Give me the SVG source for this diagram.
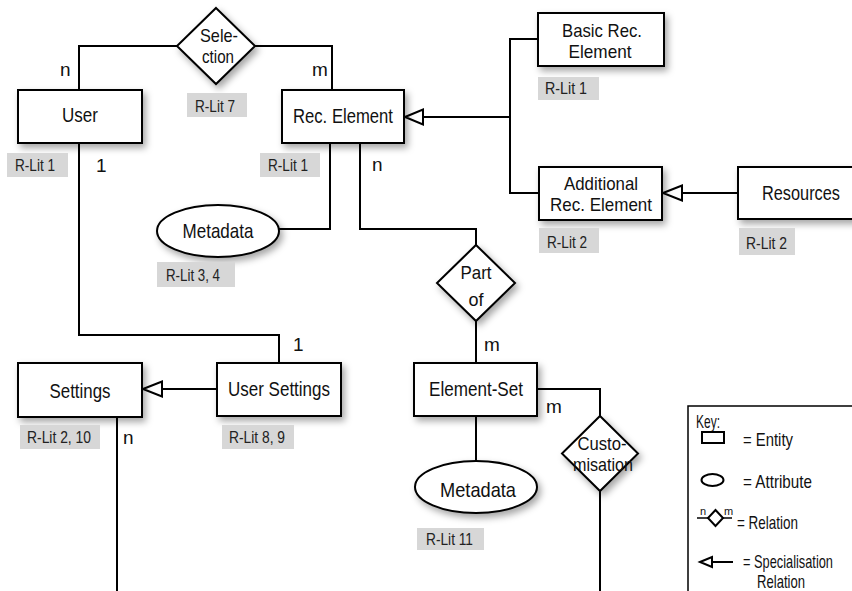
<svg xmlns="http://www.w3.org/2000/svg" width="852" height="591" viewBox="0 0 852 591">
<defs>
<filter id="sh" x="-20%" y="-20%" width="150%" height="160%">
<feDropShadow dx="3" dy="4" stdDeviation="3.5" flood-color="#000" flood-opacity="0.35"/>
</filter>
<style>
.nd{fill:#fff;stroke:#000;stroke-width:2;filter:url(#sh)}
.ln{fill:none;stroke:#000;stroke-width:2}
.tri{fill:#fff;stroke:#000;stroke-width:2}
.t{font-family:"Liberation Sans",Arial,sans-serif;font-size:21px;fill:#111;text-anchor:middle}
.t2{font-family:"Liberation Sans",Arial,sans-serif;font-size:19px;fill:#111;text-anchor:middle}
.c{font-family:"Liberation Sans",Arial,sans-serif;font-size:19px;fill:#111}
.lb{fill:#d7d7d7}
.lt{font-family:"Liberation Sans",Arial,sans-serif;font-size:17px;fill:#222}
.k{font-family:"Liberation Sans",Arial,sans-serif;font-size:19px;fill:#111}
</style>
</defs>
<rect width="852" height="591" fill="#fff"/>

<g id="connectors">
<path class="ln" d="M79,90 V46 H177"/>
<path class="ln" d="M255,46 H332 V90"/>
<path class="ln" d="M423,117 H510"/>
<path class="ln" d="M538,39 H510 V193 H539"/>
<path class="ln" d="M682,193 H738"/>
<path class="ln" d="M330,143 V229 H279"/>
<path class="ln" d="M360,143 V229 H476 V245"/>
<path class="ln" d="M476,321 V363"/>
<path class="ln" d="M537,389 H600 V416"/>
<path class="ln" d="M600,491 V591"/>
<path class="ln" d="M476,416 V462"/>
<path class="ln" d="M79,143 V335 H279 V363"/>
<path class="ln" d="M162,389 H217"/>
<path class="ln" d="M117,417 V591"/>
<polygon class="tri" points="405,117 423,109.5 423,124.5"/>
<polygon class="tri" points="663,193 682,185.5 682,200.5"/>
<polygon class="tri" points="143,389 162,381.5 162,396.5"/>
<text class="c" x="60" y="76">n</text>
<text class="c" x="312" y="76">m</text>
<text class="c" x="96" y="172">1</text>
<text class="c" x="372" y="171">n</text>
<text class="c" x="293" y="351">1</text>
<text class="c" x="123" y="444">n</text>
<text class="c" x="484" y="351">m</text>
<text class="c" x="546" y="413">m</text>
</g>

<g id="user">
<rect class="nd" x="18" y="90" width="124" height="53"/>
<text class="t" x="80" y="122" textLength="36" lengthAdjust="spacingAndGlyphs">User</text>
<rect class="lb" x="7" y="153" width="61" height="24"/>
<text class="lt" x="15" y="171" textLength="40" lengthAdjust="spacingAndGlyphs">R-Lit 1</text>
</g>

<g id="selection">
<polygon class="nd" points="216,8 255,46 216,84 177,46"/>
<text class="t2" x="219" y="42" textLength="38" lengthAdjust="spacingAndGlyphs">Sele-</text>
<text class="t2" x="218" y="63" textLength="32" lengthAdjust="spacingAndGlyphs">ction</text>
<rect class="lb" x="187" y="93" width="60" height="24"/>
<text class="lt" x="195" y="112" textLength="40" lengthAdjust="spacingAndGlyphs">R-Lit 7</text>
</g>

<g id="rec-element">
<rect class="nd" x="282" y="90" width="122" height="53"/>
<text class="t" x="343" y="123" textLength="100" lengthAdjust="spacingAndGlyphs">Rec. Element</text>
<rect class="lb" x="260" y="153" width="60" height="24"/>
<text class="lt" x="268" y="171" textLength="40" lengthAdjust="spacingAndGlyphs">R-Lit 1</text>
</g>

<g id="basic-rec-element">
<rect class="nd" x="538" y="13" width="126" height="53"/>
<text class="t2" x="602" y="37" textLength="80" lengthAdjust="spacingAndGlyphs">Basic Rec.</text>
<text class="t2" x="600" y="58" textLength="63" lengthAdjust="spacingAndGlyphs">Element</text>
<rect class="lb" x="538" y="77" width="61" height="23"/>
<text class="lt" x="545" y="94" textLength="42" lengthAdjust="spacingAndGlyphs">R-Lit 1</text>
</g>

<g id="additional-rec-element">
<rect class="nd" x="539" y="167" width="123" height="53"/>
<text class="t2" x="601" y="190" textLength="74" lengthAdjust="spacingAndGlyphs">Additional</text>
<text class="t2" x="601" y="211" textLength="102" lengthAdjust="spacingAndGlyphs">Rec. Element</text>
<rect class="lb" x="539" y="228" width="60" height="25"/>
<text class="lt" x="547" y="248" textLength="40" lengthAdjust="spacingAndGlyphs">R-Lit 2</text>
</g>

<g id="resources">
<rect class="nd" x="738" y="167" width="130" height="52"/>
<text class="t" x="801" y="200" textLength="78" lengthAdjust="spacingAndGlyphs">Resources</text>
<rect class="lb" x="739" y="228" width="56" height="27"/>
<text class="lt" x="746" y="249" textLength="41" lengthAdjust="spacingAndGlyphs">R-Lit 2</text>
</g>

<g id="metadata-1">
<ellipse class="nd" cx="218" cy="231" rx="61" ry="26"/>
<text class="t" x="218" y="238" textLength="71" lengthAdjust="spacingAndGlyphs">Metadata</text>
<rect class="lb" x="157" y="262" width="78" height="25"/>
<text class="lt" x="166" y="281" textLength="54" lengthAdjust="spacingAndGlyphs">R-Lit 3, 4</text>
</g>

<g id="part-of">
<polygon class="nd" points="476,245 515,283 476,321 437,283"/>
<text class="t2" x="476" y="279" textLength="31" lengthAdjust="spacingAndGlyphs">Part</text>
<text class="t2" x="476" y="306" textLength="15" lengthAdjust="spacingAndGlyphs">of</text>
</g>

<g id="settings">
<rect class="nd" x="18" y="363" width="124" height="54"/>
<text class="t" x="80" y="398" textLength="61" lengthAdjust="spacingAndGlyphs">Settings</text>
<rect class="lb" x="20" y="425" width="80" height="24"/>
<text class="lt" x="27" y="443" textLength="64" lengthAdjust="spacingAndGlyphs">R-Lit 2, 10</text>
</g>

<g id="user-settings">
<rect class="nd" x="217" y="363" width="124" height="53"/>
<text class="t" x="279" y="396" textLength="102" lengthAdjust="spacingAndGlyphs">User Settings</text>
<rect class="lb" x="222" y="425" width="72" height="24"/>
<text class="lt" x="229" y="443" textLength="56" lengthAdjust="spacingAndGlyphs">R-Lit 8, 9</text>
</g>

<g id="element-set">
<rect class="nd" x="414" y="363" width="123" height="53"/>
<text class="t" x="476" y="396" textLength="94" lengthAdjust="spacingAndGlyphs">Element-Set</text>
</g>

<g id="metadata-2">
<ellipse class="nd" cx="476" cy="487" rx="61" ry="26"/>
<text class="t" x="478" y="497" textLength="76" lengthAdjust="spacingAndGlyphs">Metadata</text>
<rect class="lb" x="417" y="528" width="67" height="22"/>
<text class="lt" x="426" y="545" textLength="47" lengthAdjust="spacingAndGlyphs">R-Lit 11</text>
</g>

<g id="customisation">
<polygon class="nd" points="600,416 638,453.5 600,491 562,453.5"/>
<text class="t2" x="602" y="450" textLength="49" lengthAdjust="spacingAndGlyphs">Custo-</text>
<text class="t2" x="603" y="471" textLength="60" lengthAdjust="spacingAndGlyphs">misation</text>
</g>

<g id="key">
<rect x="688" y="406" width="180" height="200" fill="#fff" stroke="#000" stroke-width="1.5"/>
<text class="k" x="696" y="428" textLength="24" lengthAdjust="spacingAndGlyphs">Key:</text>
<rect x="702" y="432" width="22" height="11" fill="#fff" stroke="#000" stroke-width="2"/>
<text class="k" x="743" y="446" textLength="50" lengthAdjust="spacingAndGlyphs">= Entity</text>
<ellipse cx="712.5" cy="480" rx="11" ry="6" fill="#fff" stroke="#000" stroke-width="2"/>
<text class="k" x="743" y="488" textLength="69" lengthAdjust="spacingAndGlyphs">= Attribute</text>
<path d="M697,518 H732" stroke="#000" stroke-width="1.5" fill="none"/>
<polygon points="715.5,510 723,518 715.5,526 708,518" fill="#fff" stroke="#000" stroke-width="2"/>
<text x="700" y="515" font-family="Liberation Sans, Arial, sans-serif" font-size="11" fill="#111">n</text>
<text x="724" y="515" font-family="Liberation Sans, Arial, sans-serif" font-size="11" fill="#111">m</text>
<text class="k" x="737" y="529" textLength="61" lengthAdjust="spacingAndGlyphs">= Relation</text>
<path d="M712,562 H733" stroke="#000" stroke-width="2" fill="none"/>
<polygon points="700,562 712,557 712,567" fill="#fff" stroke="#000" stroke-width="2"/>
<text class="k" x="743" y="568" textLength="90" lengthAdjust="spacingAndGlyphs">= Specialisation</text>
<text class="k" x="757" y="588" textLength="48" lengthAdjust="spacingAndGlyphs">Relation</text>
</g>
</svg>
